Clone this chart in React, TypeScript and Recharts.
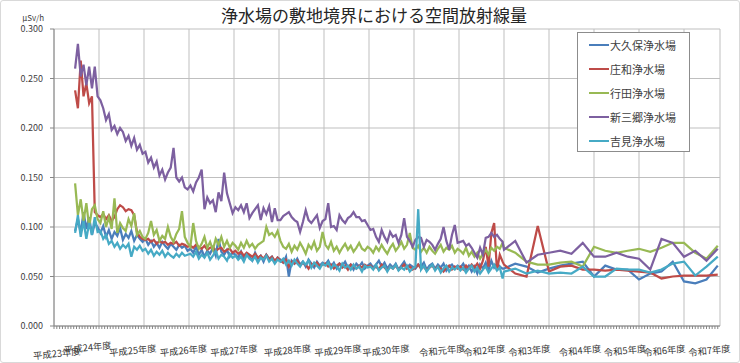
import { LineChart, Line, XAxis, YAxis, CartesianGrid, Legend } from 'recharts';

// 平成23年度〜令和2年度: 1/16年刻み（t = (7.5 + i) / 16）
const denseOkubo = [
  0.096, 0.108, 0.094, 0.115, 0.098, 0.110, 0.092, 0.104, 0.100,
  0.094, 0.101, 0.090, 0.097, 0.088, 0.095, 0.091, 0.099, 0.087, 0.093, 0.089, 0.096, 0.086, 0.092, 0.088, 0.085,
  0.088, 0.082, 0.086, 0.080, 0.084, 0.079, 0.085, 0.081, 0.078, 0.083, 0.080, 0.077, 0.082, 0.079, 0.081, 0.076,
  0.078, 0.074, 0.080, 0.072, 0.077, 0.070, 0.076, 0.073, 0.079, 0.071, 0.088, 0.075, 0.072, 0.077, 0.070, 0.074,
  0.072, 0.069, 0.075, 0.067, 0.073, 0.070, 0.066, 0.074, 0.068, 0.071, 0.065, 0.072, 0.068, 0.070, 0.064, 0.069,
  0.067, 0.064, 0.070, 0.050, 0.066, 0.063, 0.068, 0.062, 0.065, 0.060, 0.067, 0.063, 0.059, 0.065, 0.061, 0.064,
  0.062, 0.066, 0.060, 0.064, 0.058, 0.063, 0.061, 0.065, 0.059, 0.062, 0.057, 0.063, 0.060, 0.064, 0.058, 0.061,
  0.063, 0.059, 0.062, 0.066, 0.060, 0.064, 0.058, 0.062, 0.059, 0.063, 0.057, 0.061, 0.065, 0.059, 0.062, 0.060,
  0.058, 0.062, 0.060, 0.064, 0.057, 0.061, 0.063, 0.058, 0.062, 0.059, 0.063, 0.056, 0.060, 0.062, 0.058, 0.061,
  0.059, 0.063, 0.057, 0.061, 0.055, 0.060, 0.053, 0.062, 0.058, 0.064, 0.056, 0.066, 0.059, 0.063, 0.060, 0.058,
];
const denseShowa = [
  0.238, 0.220, 0.268, 0.232, 0.245, 0.225, 0.232, 0.115, 0.112,
  0.110, 0.113, 0.108, 0.112, 0.106, 0.110, 0.118, 0.122, 0.120, 0.116, 0.118, 0.117, 0.112, 0.095, 0.090, 0.088,
  0.087, 0.088, 0.085, 0.087, 0.083, 0.086, 0.084, 0.085, 0.082, 0.084, 0.083, 0.085, 0.081, 0.083, 0.082, 0.080,
  0.081, 0.079, 0.082, 0.080, 0.078, 0.081, 0.077, 0.079, 0.080, 0.076, 0.078, 0.079, 0.075, 0.077, 0.078, 0.074,
  0.076, 0.073, 0.075, 0.071, 0.074, 0.072, 0.070, 0.073, 0.069, 0.071, 0.068, 0.072, 0.067, 0.070, 0.066, 0.069,
  0.066, 0.064, 0.067, 0.060, 0.065, 0.063, 0.066, 0.061, 0.064, 0.062, 0.058, 0.063, 0.061, 0.064, 0.060, 0.062,
  0.063, 0.060, 0.062, 0.058, 0.061, 0.063, 0.059, 0.061, 0.057, 0.062, 0.060, 0.058, 0.061, 0.059, 0.062, 0.060,
  0.061, 0.058, 0.060, 0.057, 0.062, 0.059, 0.056, 0.060, 0.058, 0.061, 0.057, 0.059, 0.062, 0.058, 0.060, 0.057,
  0.059, 0.062, 0.058, 0.060, 0.056, 0.059, 0.061, 0.057, 0.060, 0.058, 0.055, 0.059, 0.061, 0.057, 0.060, 0.058,
  0.060, 0.057, 0.061, 0.058, 0.062, 0.059, 0.063, 0.058, 0.066, 0.080, 0.060, 0.094, 0.104, 0.056, 0.072, 0.065,
];
const denseGyoda = [
  0.144, 0.112, 0.128, 0.106, 0.124, 0.100, 0.118, 0.122, 0.108,
  0.104, 0.116, 0.100, 0.110, 0.098, 0.129, 0.094, 0.104, 0.099, 0.096, 0.108, 0.101, 0.114, 0.092, 0.096, 0.090,
  0.088, 0.094, 0.106, 0.092, 0.097, 0.086, 0.091, 0.088, 0.100, 0.090, 0.085, 0.093, 0.098, 0.116, 0.090, 0.084,
  0.080, 0.104, 0.086, 0.078, 0.083, 0.090, 0.079, 0.085, 0.077, 0.088, 0.082, 0.090, 0.080, 0.086, 0.079, 0.084,
  0.081, 0.077, 0.084, 0.079, 0.086, 0.080, 0.083, 0.078, 0.082, 0.084, 0.086, 0.100, 0.092, 0.094, 0.090, 0.096,
  0.086, 0.080, 0.078, 0.083, 0.075, 0.081, 0.077, 0.084, 0.079, 0.073, 0.082, 0.078, 0.085, 0.076, 0.080, 0.095,
  0.082, 0.078, 0.085, 0.076, 0.080, 0.074, 0.079, 0.083, 0.077, 0.081, 0.075, 0.079, 0.084, 0.078, 0.076, 0.080,
  0.078, 0.074, 0.080, 0.076, 0.082, 0.077, 0.073, 0.079, 0.083, 0.076, 0.080, 0.085, 0.078, 0.082, 0.094, 0.079,
  0.077, 0.081, 0.075, 0.079, 0.074, 0.080, 0.076, 0.073, 0.078, 0.082, 0.075, 0.079, 0.077, 0.081, 0.074, 0.078,
  0.076, 0.073, 0.079, 0.071, 0.075, 0.070, 0.074, 0.068, 0.073, 0.077, 0.072, 0.079, 0.076, 0.080, 0.078, 0.084,
];
const denseShinmisato = [
  0.260, 0.285, 0.252, 0.264, 0.243, 0.262, 0.240, 0.262, 0.232,
  0.228, 0.220, 0.208, 0.214, 0.198, 0.202, 0.194, 0.200, 0.196, 0.187, 0.192, 0.182, 0.190, 0.178, 0.183, 0.174,
  0.176, 0.165, 0.170, 0.160, 0.166, 0.152, 0.158, 0.148, 0.155, 0.160, 0.180, 0.150, 0.146, 0.150, 0.140, 0.138,
  0.142, 0.136, 0.145, 0.150, 0.158, 0.118, 0.130, 0.124, 0.127, 0.115, 0.135, 0.126, 0.155, 0.134, 0.124, 0.114,
  0.120, 0.117, 0.122, 0.115, 0.124, 0.109, 0.114, 0.118, 0.122, 0.107, 0.119, 0.113, 0.121, 0.105, 0.119, 0.107,
  0.107, 0.111, 0.113, 0.115, 0.110, 0.107, 0.105, 0.095, 0.105, 0.117, 0.107, 0.104, 0.108, 0.112, 0.099, 0.106,
  0.108, 0.124, 0.100, 0.101, 0.097, 0.112, 0.107, 0.104, 0.109, 0.111, 0.115, 0.110, 0.110, 0.106, 0.107, 0.102,
  0.097, 0.098, 0.090, 0.085, 0.097, 0.090, 0.085, 0.095, 0.090, 0.092, 0.084, 0.092, 0.109, 0.090, 0.086, 0.080,
  0.087, 0.090, 0.089, 0.080, 0.087, 0.085, 0.082, 0.077, 0.083, 0.088, 0.100, 0.086, 0.077, 0.092, 0.102, 0.084,
  0.085, 0.086, 0.081, 0.083, 0.079, 0.074, 0.069, 0.079, 0.072, 0.089, 0.090, 0.094, 0.090, 0.092, 0.088, 0.085,
];
const denseYoshimi = [
  0.094, 0.112, 0.090, 0.106, 0.088, 0.104, 0.092, 0.110, 0.095,
  0.096, 0.088, 0.092, 0.083, 0.086, 0.080, 0.084, 0.078, 0.082, 0.079, 0.083, 0.070, 0.080, 0.077, 0.081, 0.076,
  0.078, 0.073, 0.077, 0.071, 0.075, 0.072, 0.076, 0.070, 0.074, 0.071, 0.069, 0.073, 0.070, 0.074, 0.071, 0.072,
  0.073, 0.070, 0.075, 0.068, 0.072, 0.069, 0.074, 0.067, 0.071, 0.076, 0.068, 0.072, 0.070, 0.066, 0.073, 0.069,
  0.071, 0.067, 0.070, 0.065, 0.072, 0.068, 0.066, 0.070, 0.064, 0.069, 0.067, 0.071, 0.065, 0.068, 0.063, 0.067,
  0.065, 0.068, 0.062, 0.066, 0.061, 0.067, 0.063, 0.060, 0.065, 0.062, 0.066, 0.059, 0.064, 0.061, 0.058, 0.063,
  0.061, 0.064, 0.058, 0.062, 0.060, 0.056, 0.063, 0.059, 0.061, 0.057, 0.062, 0.058, 0.060, 0.055, 0.061, 0.059,
  0.060, 0.057, 0.062, 0.056, 0.059, 0.061, 0.055, 0.060, 0.058, 0.062, 0.056, 0.059, 0.057, 0.061, 0.055, 0.058,
  0.060, 0.118, 0.057, 0.061, 0.055, 0.059, 0.062, 0.056, 0.060, 0.054, 0.058, 0.061, 0.055, 0.059, 0.057, 0.060,
  0.056, 0.059, 0.054, 0.058, 0.061, 0.055, 0.059, 0.053, 0.057, 0.060, 0.054, 0.058, 0.062, 0.056, 0.059, 0.048,
];

// 令和3年度〜令和7年度: 四半期ごと（t = 10 + k / 4）
const sparseOkubo = [0.058, 0.063, 0.060, 0.054, 0.058, 0.061, 0.063, 0.065, 0.050, 0.061, 0.057, 0.057, 0.047, 0.053, 0.055, 0.065, 0.045, 0.043, 0.047, 0.061];
const sparseShowa = [0.062, 0.053, 0.050, 0.101, 0.055, 0.060, 0.061, 0.057, 0.057, 0.056, 0.057, 0.056, 0.055, 0.054, 0.048, 0.050, 0.051, 0.051, 0.051, 0.052];
const sparseGyoda = [0.079, 0.074, 0.065, 0.062, 0.062, 0.064, 0.065, 0.060, 0.080, 0.076, 0.074, 0.076, 0.078, 0.075, 0.079, 0.084, 0.084, 0.074, 0.068, 0.081];
const sparseShinmisato = [0.077, 0.086, 0.064, 0.072, 0.074, 0.076, 0.073, 0.084, 0.070, 0.070, 0.074, 0.070, 0.068, 0.057, 0.088, 0.084, 0.070, 0.076, 0.066, 0.078];
const sparseYoshimi = [0.055, 0.058, 0.053, 0.056, 0.053, 0.054, 0.053, 0.060, 0.050, 0.050, 0.058, 0.057, 0.057, 0.054, 0.057, 0.063, 0.065, 0.051, 0.060, 0.070];

const yearLabels = [
  '平成23年度', '平成24年度', '平成25年度', '平成26年度', '平成27年度', '平成28年度', '平成29年度', '平成30年度',
  '令和元年度', '令和2年度', '令和3年度', '令和4年度', '令和5年度', '令和6年度', '令和7年度',
];
// minor tick (1/16 year) under which Excel put each label
const labelSlots = [1, 12, 28, 46, 64, 83, 101, 118, 138, 153, 169, 187, 203, 217, 233];
const yearGrid = [1, 2, 3, 4, 5, 6, 7, 8, 9, 10, 11, 12, 13, 14, 14.8];
const yTicks = [0, 0.05, 0.1, 0.15, 0.2, 0.25, 0.3];

const SERIES = [
  { key: 'okubo', name: '大久保浄水場', color: '#4A7EBB', dense: denseOkubo, sparse: sparseOkubo },
  { key: 'showa', name: '庄和浄水場', color: '#BE4B48', dense: denseShowa, sparse: sparseShowa },
  { key: 'gyoda', name: '行田浄水場', color: '#98B954', dense: denseGyoda, sparse: sparseGyoda },
  { key: 'shinmisato', name: '新三郷浄水場', color: '#7D60A0', dense: denseShinmisato, sparse: sparseShinmisato },
  { key: 'yoshimi', name: '吉見浄水場', color: '#46AAC5', dense: denseYoshimi, sparse: sparseYoshimi },
];

const X_MAX = 14.8;
const FONT = '"Noto Sans CJK JP", "Noto Sans", sans-serif';

const data: Array<Record<string, number>> = [];
for (let i = 0; i < denseOkubo.length; i++) {
  const row: Record<string, number> = { t: (7.5 + i) / 16 };
  SERIES.forEach((s) => (row[s.key] = s.dense[i]));
  data.push(row);
}
for (let k = 0; k < sparseOkubo.length; k++) {
  const row: Record<string, number> = { t: 10 + k / 4 };
  SERIES.forEach((s) => (row[s.key] = s.sparse[k]));
  data.push(row);
}

const minorTicks = Array.from({ length: Math.floor(X_MAX * 16) + 1 }, (_, i) => i / 16);

function YearTick({ x, y, payload }: any) {
  const idx = labelSlots.indexOf(Math.round(payload.value * 16));
  if (idx < 0) return <g />;
  // first two labels overlap in the original, Excel staggers them a bit
  const cy = y + 21 + (idx === 0 ? 3 : idx === 1 ? -3 : 0);
  return (
    <text
      x={x}
      y={cy}
      transform={`rotate(-6 ${x} ${cy})`}
      textAnchor="middle"
      dominantBaseline="central"
      fontSize={9.3}
      fill="#333"
      fontFamily={FONT}
    >
      {yearLabels[idx]}
    </text>
  );
}

function LegendBox() {
  return (
    <div
      style={{
        width: 113,
        height: 120,
        boxSizing: 'border-box',
        border: '1px solid #8c8c8c',
        background: '#fff',
        paddingLeft: 11,
        fontFamily: FONT,
      }}
    >
      {SERIES.map((s) => (
        <div key={s.key} style={{ display: 'flex', alignItems: 'center', height: 24 }}>
          <span style={{ width: 20, height: 2, background: s.color, marginRight: 1 }} />
          <span style={{ fontSize: 11, color: '#404040' }}>{s.name}</span>
        </div>
      ))}
    </div>
  );
}

export default function App() {
  return (
    <div style={{ position: 'absolute', left: 0, top: 0, width: 740, height: 363, background: '#fff' }}>
      <div
        style={{
          position: 'absolute',
          left: 0,
          top: 0,
          width: 740,
          height: 363,
          boxSizing: 'border-box',
          border: '1px solid #d9d9d9',
          borderRadius: 3,
        }}
      />
      <div
        style={{
          position: 'absolute',
          left: 0,
          width: 748,
          top: 3,
          textAlign: 'center',
          fontSize: 17,
          color: '#262626',
          fontFamily: FONT,
          lineHeight: '24px',
        }}
      >
        浄水場の敷地境界における空間放射線量
      </div>
      <div
        style={{
          position: 'absolute',
          right: 740 - 44,
          top: 12,
          fontSize: 8,
          color: '#404040',
          fontFamily: FONT,
        }}
      >
        µSv/h
      </div>
      <div style={{ position: 'absolute', left: 0, top: 0 }}>
        <LineChart width={740} height={363} data={data} margin={{ top: 29, right: 20, bottom: 7, left: 0 }}>
          <CartesianGrid xAxisId="grid" stroke="#bfbfbf" strokeWidth={1} />
          <XAxis
            xAxisId="minor"
            dataKey="t"
            type="number"
            domain={[0, X_MAX]}
            ticks={minorTicks}
            interval={0}
            tick={<YearTick />}
            tickSize={3}
            tickMargin={0}
            stroke="#868686"
            height={30}
            allowDataOverflow
          />
          <XAxis
            xAxisId="grid"
            dataKey="t"
            type="number"
            domain={[0, X_MAX]}
            ticks={yearGrid}
            hide
            height={0}
            allowDataOverflow
          />
          <YAxis
            type="number"
            domain={[0, 0.3]}
            ticks={yTicks}
            width={54}
            stroke="#868686"
            tickSize={4}
            tickMargin={7}
            tick={{ fontSize: 9, fill: '#404040', fontFamily: FONT }}
            tickFormatter={(v: number) => v.toFixed(3)}
            allowDataOverflow
          />
          <Legend
            layout="horizontal"
            verticalAlign="middle"
            align="center"
            wrapperStyle={{ left: 577, top: 32, width: 113, height: 120 }}
            content={<LegendBox />}
          />
          {SERIES.map((s) => (
            <Line
              key={s.key}
              xAxisId="grid"
              dataKey={s.key}
              name={s.name}
              type="linear"
              stroke={s.color}
              strokeWidth={2.25}
              dot={false}
              isAnimationActive={false}
            />
          ))}
        </LineChart>
      </div>
    </div>
  );
}
